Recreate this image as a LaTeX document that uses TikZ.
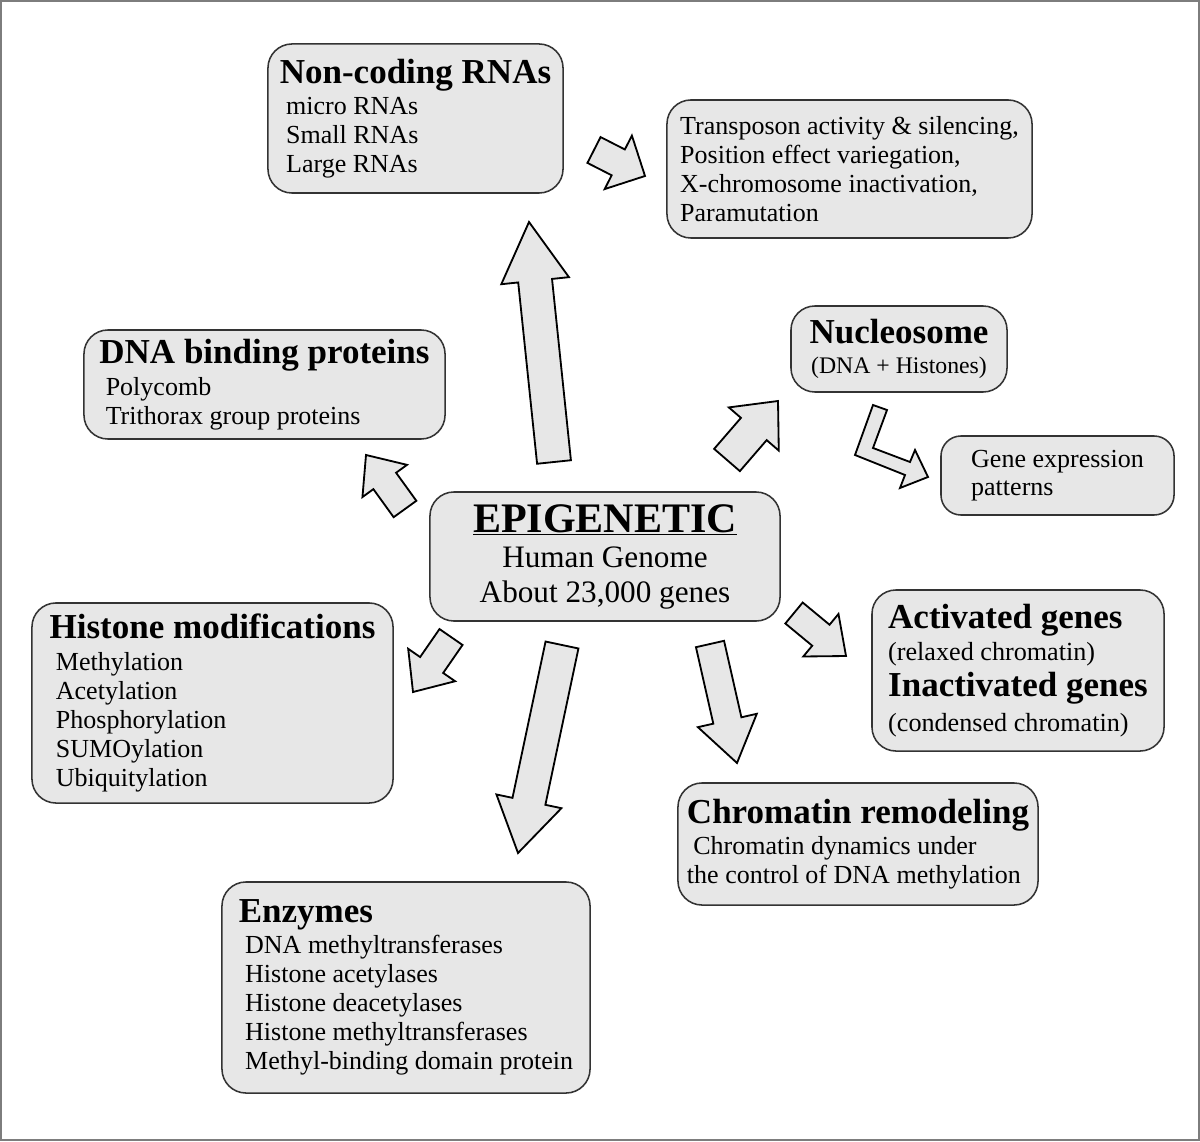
\documentclass[tikz,border=0pt]{standalone}
\usepackage{fontspec}
\setmainfont{Liberation Serif}
\usetikzlibrary{calc}
\definecolor{boxgray}{RGB}{231,231,231}
\definecolor{framegray}{RGB}{125,125,125}
\newcommand{\hd}[1]{{\fontsize{24.9}{20.6}\selectfont\bfseries #1}}
\newcommand{\ind}{\hspace*{4.5pt}}
% tail, tip, half shaft, half head, head length
\newcommand{\blockarrow}[5]{%
  \path ($(#2)!#5!(#1)$) coordinate (hb);
  \draw[blockarr] ($(#1)!#3!90:(#2)$) -- ($(hb)!#3!90:(#2)$) -- ($(hb)!#4!90:(#2)$) -- (#2)
    -- ($(hb)!#4!-90:(#2)$) -- ($(hb)!#3!-90:(#2)$) -- ($(#1)!#3!-90:(#2)$) -- cycle;}
\tikzset{
  box/.style={draw=black!80, fill=boxgray, line width=1.1pt, rounded corners=0.6cm,
    inner sep=2pt, align=left, font=\fontsize{18.5}{20.6}\selectfont},
  blockarr/.style={draw=black, fill=boxgray, line width=1.3pt, line join=miter}
}
\begin{document}
\begin{tikzpicture}[x=0.025cm, y=-0.025cm]
    \useasboundingbox (0,0) rectangle (1200,1141);
    \draw [framegray, line width=1.5pt] (1,1) rectangle (1199,1140);

    \node [box, minimum width=7.375cm, minimum height=3.725cm] (ncrna) at (415.5,118.5)
        {\hd{Non-coding RNAs}\\[1.8pt] \ind micro RNAs\\ \ind Small RNAs\\ \ind Large RNAs};
    \node [box, minimum width=9.125cm, minimum height=3.45cm] (trans) at (849.5,169)
        {Transposon activity \& silencing,\\ Position effect variegation,\\ X-chromosome inactivation,\\ Paramutation};
    \node [box, minimum width=5.4cm, minimum height=2.15cm, align=center, font=\fontsize{16.9}{21.3}\selectfont] (nuc) at (899,349)
        {\hd{Nucleosome}\\ (DNA + Histones)};
    \node [box, minimum width=5.825cm, minimum height=1.975cm, rounded corners=0.5cm, font=\fontsize{18.5}{20}\selectfont] (gene) at (1057.5,475.5)
        {Gene expression\\ patterns};
    \node [box, minimum width=9.025cm, minimum height=2.725cm] (dna) at (264.5,384.5)
        {\hd{DNA binding proteins}\\[1.8pt] \ind Polycomb\\ \ind Trithorax group proteins};
    \node [box, minimum width=8.75cm, minimum height=3.225cm, align=center, font=\fontsize{22.2}{24.9}\selectfont] (epi) at (605,556.5)
        {{\fontsize{29.9}{24.9}\selectfont\bfseries\underline{EPIGENETIC}}\\ Human Genome\\ About 23,000 genes};
    \node [box, minimum width=9.025cm, minimum height=5cm] (hist) at (212.5,703)
        {\hd{Histone modifications}\\[1.8pt] \ind Methylation\\ \ind Acetylation\\ \ind Phosphorylation\\ \ind SUMOylation\\ \ind Ubiquitylation};
    \node [box, minimum width=7.3cm, minimum height=4.025cm, font=\fontsize{18.6}{22.4}\selectfont] (act) at (1018,670.5)
        {\hd{Activated genes}\\ (relaxed chromatin)\\[3.4pt] \hd{Inactivated genes}\\[2.2pt] (condensed chromatin)};
    \node [box, minimum width=9cm, minimum height=3.05cm] (chr) at (858,844)
        {\hd{Chromatin remodeling}\\[1.8pt] \ind Chromatin dynamics under\\ the control of DNA methylation};
    \node [box, minimum width=9.2cm, minimum height=5.275cm] (enz) at (406,987.5)
        {\hd{Enzymes}\\[1.8pt] \ind DNA methyltransferases\\ \ind Histone acetylases\\ \ind Histone deacetylases\\ \ind Histone methyltransferases\\ \ind Methyl-binding domain protein};

    % arrow ends
    \coordinate (up0) at (554,462);   \coordinate (up1) at (529,222);
    \coordinate (dn0) at (405,509);   \coordinate (dn1) at (366,455);
    \coordinate (nu0) at (727,460);   \coordinate (nu1) at (778,401);
    \coordinate (tr0) at (594,150);   \coordinate (tr1) at (645,176);
    \coordinate (hi0) at (451,637);   \coordinate (hi1) at (413,692);
    \coordinate (en0) at (562,645);   \coordinate (en1) at (518,853);
    \coordinate (ch0) at (710,644);   \coordinate (ch1) at (737,763);
    \coordinate (ac0) at (794,613);   \coordinate (ac1) at (846,656);

    \blockarrow{up0}{up1}{0.425cm}{0.85cm}{1.475cm}
    \blockarrow{dn0}{dn1}{0.35cm}{0.6875cm}{0.8cm}
    \blockarrow{nu0}{nu1}{0.425cm}{0.825cm}{0.925cm}
    \blockarrow{tr0}{tr1}{0.3625cm}{0.75cm}{0.75cm}
    \blockarrow{hi0}{hi1}{0.35cm}{0.7125cm}{0.82cm}
    \blockarrow{en0}{en1}{0.42cm}{0.83cm}{1.32cm}
    \blockarrow{ch0}{ch1}{0.36cm}{0.755cm}{1.09cm}
    \blockarrow{ac0}{ac1}{0.34cm}{0.69cm}{0.815cm}

    % bent arrow
    \draw [blockarr] (873,405) -- (887,410) -- (873,448) -- (910,462) -- (915,450) -- (928,477)
        -- (900,488) -- (905,475) -- (855,455) -- cycle;
\end{tikzpicture}
\end{document}
